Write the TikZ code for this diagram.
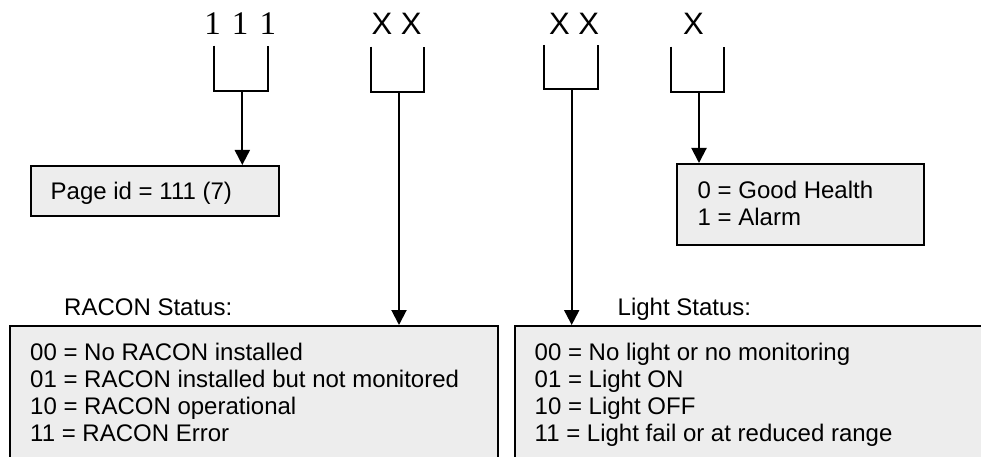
\documentclass[tikz,border=0pt]{standalone}
\usepackage{fontspec}
\setmainfont{Liberation Sans}
\newfontfamily\serifnum{Liberation Serif}
\usetikzlibrary{arrows.meta}
\definecolor{boxfill}{RGB}{237,237,237}
\tikzset{
  lbl/.style={inner sep=0pt, anchor=base west, font=\fontsize{24}{27.2}\selectfont, align=left},
  bits/.style={inner sep=0pt, anchor=base west, font=\fontsize{31}{31}\selectfont},
  infobox/.style={draw=black, line width=2pt, fill=boxfill, rectangle, inner sep=0pt},
  brk/.style={line width=2pt, line join=miter},
  conn/.style={line width=2pt, -{Triangle[width=15pt,length=15pt]}, shorten >=0pt},
}
\begin{document}
\begin{tikzpicture}[x=1pt,y=-1pt]
\useasboundingbox (0,0) rectangle (981,457);
\clip (0,0) rectangle (981,457);
% bit labels
\node[bits, font=\serifnum\fontsize{33}{33}\selectfont] (b1) at (204.2,35) {\spaceskip=11.1pt 1 1 1};
\node[bits] (b2) at (371.5,35) {X X};
\node[bits] (b3) at (549,35) {X X};
\node[bits] (b4) at (683,35) {X};
% boxes
\node[infobox, minimum width=248pt, minimum height=50pt] (page) at (155,191) {};
\node[infobox, minimum width=247.5pt, minimum height=81pt] (health) at (800.25,204.5) {};
\node[infobox, minimum width=488pt, minimum height=154pt] (racon) at (253.5,403) {};
\node[infobox, minimum width=485.5pt, minimum height=154pt] (light) at (757.25,403) {};
% box texts (base anchor = baseline of last line)
\node[lbl] (pagetxt) at (50.5,199) {Page id = 111 (7)};
\node[lbl] (healthtxt) at (697.5,225) {0 = Good Health\\[-0.5pt]1 = Alarm};
\node[lbl] (racontitle) at (64,315) {RACON Status:};
\node[lbl] (lighttitle) at (617.5,315) {Light Status:};
\node[lbl] (racontxt) at (30,441.7) {00 = No RACON installed\\01 = RACON installed but not monitored\\10 = RACON operational\\11 = RACON Error};
\node[lbl] (lighttxt) at (534.5,441.7) {00 = No light or no monitoring\\01 = Light ON\\10 = Light OFF\\11 = Light fail or at reduced range};
% brackets
\coordinate (s1) at (242.3,90.7);
\coordinate (s2) at (399,91.7);
\coordinate (s3) at (571.7,89.3);
\coordinate (s4) at (699,91.7);
\draw[brk] (214.3,45.7) -- (214.3,90.7) -- (268.3,90.7) -- (268.3,45.7);
\draw[brk] (370.7,46.7) -- (370.7,91.7) -- (424.3,91.7) -- (424.3,46.7);
\draw[brk] (544.3,45) -- (544.3,89.3) -- (598.3,89.3) -- (598.3,45);
\draw[brk] (671,46.7) -- (671,91.7) -- (724,91.7) -- (724,46.7);
% connectors
\draw[conn] (s1) -- (s1 |- page.north);
\draw[conn] (s2) -- (s2 |- racon.north);
\draw[conn] (s3) -- (s3 |- light.north);
\draw[conn] (s4) -- (s4 |- health.north);
\end{tikzpicture}
\end{document}
